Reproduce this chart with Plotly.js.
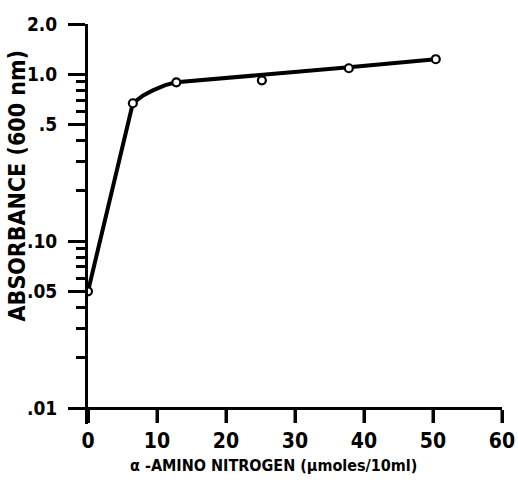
<!DOCTYPE html>
<html>
<head>
<meta charset="utf-8">
<script src="https://cdn.plot.ly/plotly-3.0.1.min.js"></script>
<style>html,body{margin:0;padding:0;background:#fff;}#chart{width:518px;height:488px;}</style>
</head>
<body>
<div id="chart"></div>
<script>
// measured points
var pointX = [0, 6.5, 12.8, 25.2, 37.8, 50.4];
var pointY = [0.05, 0.67, 0.895, 0.92, 1.086, 1.23];
// hand-drawn fitted curve
var curveX = [0, 6.5, 8.0, 9.4, 11.2, 12.8, 37.8, 50.4];
var curveY = [0.05, 0.67, 0.746, 0.80, 0.86, 0.895, 1.10, 1.23];
// axes
var xRange = [0, 60];
var xTickVals = [0, 10, 20, 30, 40, 50, 60];
var xTickText = ['0', '10', '20', '30', '40', '50', '60'];
var yTickVals = [0.01, 0.05, 0.1, 0.5, 1.0, 2.0];
var yTickText = ['.01', '.05', '.10', '.5', '1.0', '2.0'];
var yMinorVals = [0.02, 0.03, 0.04, 0.06, 0.07, 0.08, 0.09, 0.2, 0.3, 0.4, 0.6, 0.7, 0.8, 0.9];
var xTitle = 'α -AMINO NITROGEN (μmoles/10ml)';
var yTitle = 'ABSORBANCE (600 nm)';

var FONT = '"DejaVu Sans Condensed", "Liberation Sans Narrow", sans-serif';

// geometry: 0.01..2.0 spans 384 px; the plot area continues 16 px below the x-axis line
var logTop = Math.log10(2), logAxis = -2;
var pxPerDecade = 384 / (logTop - logAxis);
var extraPx = 16, tickPx = 15;
var logLo = logAxis - extraPx / pxPerDecade;
var axisPos = (logAxis - logLo) / (logTop - logLo);

// x tick marks, drawn below the x-axis line inside the extended plot area
var tickX = [], tickY = [];
xTickVals.forEach(function (v) {
  tickX.push(v, v, null);
  tickY.push(Math.pow(10, logAxis), Math.pow(10, logAxis - tickPx / pxPerDecade), null);
});

var traces = [
  {x: tickX, y: tickY, mode: 'lines', connectgaps: false, line: {color: '#000', width: 3}, hoverinfo: 'skip', showlegend: false},
  {x: curveX, y: curveY, mode: 'lines', line: {color: '#000', width: 4}, hoverinfo: 'skip', showlegend: false},
  {x: pointX, y: pointY, mode: 'markers', marker: {symbol: 'circle', size: 8, color: '#fff', line: {color: '#000', width: 2.2}}, showlegend: false}
];

var layout = {
  width: 518, height: 488,
  margin: {l: 88, r: 16, t: 24, b: 64},
  paper_bgcolor: '#fff', plot_bgcolor: '#fff',
  showlegend: false,
  xaxis: {
    range: xRange, tickvals: xTickVals, ticktext: xTickText,
    anchor: 'free', position: axisPos,
    showline: true, linecolor: '#000', linewidth: 3,
    ticks: 'outside', ticklen: 13, tickwidth: 3, tickcolor: '#000',
    showgrid: false, zeroline: false,
    tickfont: {family: FONT, size: 21, color: '#000', weight: 'bold'}
  },
  yaxis: {
    type: 'log', range: [logLo, logTop],
    tickvals: yTickVals, ticktext: yTickText,
    showline: true, linecolor: '#000', linewidth: 3,
    ticks: 'outside', ticklen: 17, tickwidth: 3, tickcolor: '#000',
    ticklabelstandoff: 7,
    minor: {tickvals: yMinorVals, ticks: 'outside', ticklen: 9, tickwidth: 2.5, tickcolor: '#000', showgrid: false},
    showgrid: false, zeroline: false,
    tickfont: {family: FONT, size: 19, color: '#000', weight: 'bold'}
  },
  annotations: [
    {text: xTitle, xref: 'paper', yref: 'paper', x: 0.449, y: 0, xanchor: 'center', yanchor: 'top', yshift: -30,
     showarrow: false, font: {family: FONT, size: 16, color: '#000', weight: 'bold'}},
    {text: yTitle, xref: 'paper', yref: 'paper', x: 0, y: 0.594, xanchor: 'center', yanchor: 'middle', xshift: -71,
     textangle: -90, showarrow: false, font: {family: FONT, size: 23, color: '#000', weight: 'bold'}}
  ]
};

Plotly.newPlot('chart', traces, layout, {displayModeBar: false});
</script>
</body>
</html>
